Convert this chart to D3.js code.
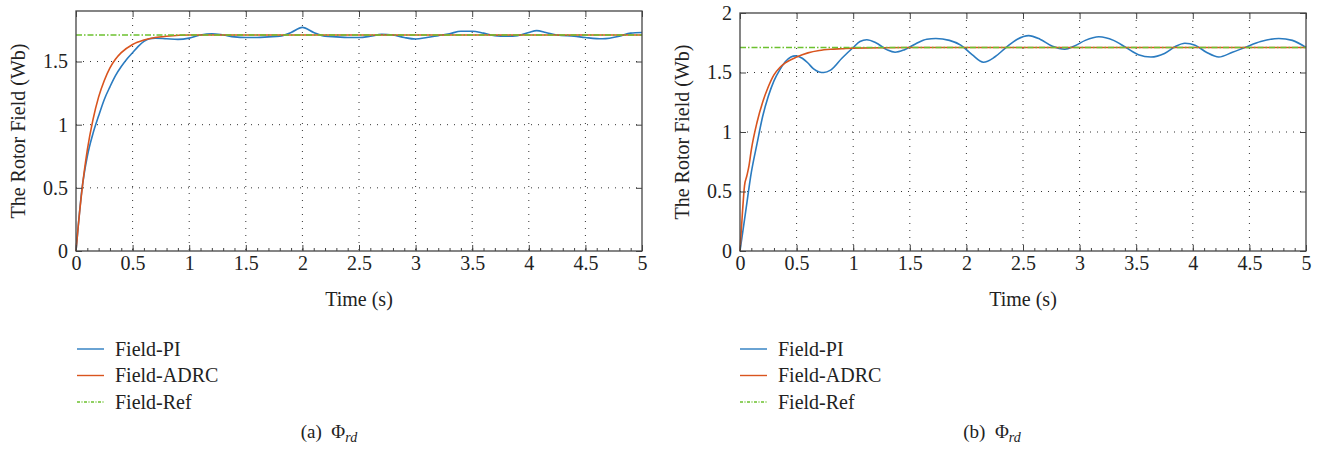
<!DOCTYPE html>
<html>
<head>
<meta charset="utf-8">
<script src="https://cdn.jsdelivr.net/npm/d3@7"></script>
</head>
<body style="margin:0">
<script>
// ---- data ----
var xTicks = [0, 0.5, 1, 1.5, 2, 2.5, 3, 3.5, 4, 4.5, 5];
var yTicksA = [0, 0.5, 1, 1.5];
var yTicksB = [0, 0.5, 1, 1.5, 2];
var fieldRef = 1.71;

// (a) PI
var tA_PI = [0, 0.02, 0.05, 0.1, 0.15, 0.2, 0.25, 0.3, 0.35, 0.4, 0.45, 0.5, 0.55, 0.6, 0.65, 0.7, 0.8, 0.9, 1.0, 1.1, 1.2, 1.3, 1.4, 1.5, 1.6, 1.7, 1.8, 1.9, 2.0, 2.1, 2.2, 2.3, 2.4, 2.5, 2.6, 2.7, 2.8, 2.9, 3.0, 3.1, 3.2, 3.3, 3.4, 3.5, 3.6, 3.7, 3.8, 3.9, 4.0, 4.07, 4.15, 4.25, 4.4, 4.5, 4.65, 4.8, 4.9, 5.0];
var vA_PI = [0, 0.2, 0.47, 0.75, 0.93, 1.07, 1.2, 1.3, 1.39, 1.46, 1.52, 1.57, 1.62, 1.66, 1.68, 1.685, 1.68, 1.675, 1.685, 1.71, 1.72, 1.71, 1.695, 1.69, 1.69, 1.695, 1.70, 1.73, 1.77, 1.73, 1.70, 1.695, 1.69, 1.69, 1.70, 1.715, 1.71, 1.69, 1.678, 1.69, 1.705, 1.72, 1.74, 1.74, 1.725, 1.705, 1.70, 1.705, 1.73, 1.745, 1.73, 1.71, 1.70, 1.69, 1.68, 1.70, 1.725, 1.73];

// (a) ADRC
var tA_ADRC = [0, 0.02, 0.05, 0.1, 0.15, 0.2, 0.25, 0.3, 0.35, 0.4, 0.5, 0.6, 0.7, 0.8, 1.0, 1.5, 2, 3, 4, 5];
var vA_ADRC = [0, 0.2, 0.46, 0.8, 1.04, 1.22, 1.35, 1.45, 1.52, 1.57, 1.635, 1.67, 1.69, 1.70, 1.71, 1.71, 1.71, 1.71, 1.71, 1.71];

// (b) PI
var tB_PI = [0, 0.05, 0.1, 0.15, 0.2, 0.25, 0.3, 0.35, 0.4, 0.45, 0.49, 0.55, 0.6, 0.65, 0.7, 0.74, 0.8, 0.9, 1.0, 1.06, 1.12, 1.2, 1.3, 1.37, 1.45, 1.55, 1.65, 1.73, 1.85, 1.95, 2.05, 2.15, 2.25, 2.35, 2.45, 2.55, 2.65, 2.76, 2.87, 2.95, 3.05, 3.17, 3.3, 3.41, 3.52, 3.63, 3.75, 3.85, 3.93, 4.02, 4.12, 4.23, 4.35, 4.46, 4.6, 4.76, 4.88, 5.0];
var vB_PI = [0, 0.33, 0.66, 0.9, 1.13, 1.3, 1.43, 1.52, 1.59, 1.63, 1.64, 1.62, 1.58, 1.53, 1.505, 1.50, 1.52, 1.62, 1.71, 1.76, 1.775, 1.75, 1.69, 1.67, 1.69, 1.74, 1.78, 1.786, 1.77, 1.73, 1.65, 1.586, 1.63, 1.71, 1.78, 1.81, 1.78, 1.72, 1.696, 1.72, 1.77, 1.80, 1.77, 1.71, 1.65, 1.63, 1.66, 1.72, 1.746, 1.73, 1.67, 1.63, 1.67, 1.71, 1.76, 1.786, 1.77, 1.71];

// (b) ADRC
var tB_ADRC = [0, 0.02, 0.04, 0.06, 0.08, 0.1, 0.15, 0.2, 0.25, 0.3, 0.35, 0.4, 0.5, 0.6, 0.7, 0.8, 0.9, 1.0, 1.5, 2, 3, 4, 5];
var vB_ADRC = [0, 0.3, 0.55, 0.63, 0.72, 0.85, 1.08, 1.25, 1.38, 1.48, 1.54, 1.58, 1.63, 1.665, 1.685, 1.695, 1.70, 1.705, 1.71, 1.71, 1.71, 1.71, 1.71];

var seriesNames = ["Field-PI", "Field-ADRC", "Field-Ref"];
var colors = ["#2a7bc0", "#d9541e", "#6cc12f"];
var serif = "'Liberation Serif'";

function zip(ts, vs) {
  return ts.map(function(t, i) { return { t: t, v: vs[i] }; });
}

// set font inline so nothing else can override it
function font(sel, size) {
  sel.attr("font-family", serif).attr("font-size", size)
    .style("font-family", serif, "important")
    .style("font-size", size + "px", "important")
    .style("fill", "#222");
}

var svg = d3.select("body").append("svg")
  .attr("width", 1324)
  .attr("height", 454);

function drawPanel(p) {
  var x = d3.scaleLinear().domain([0, 5]).range([p.left, p.right]);
  var y = d3.scaleLinear().domain([0, p.yMax]).range([p.bottom, p.top]);
  var g = svg.append("g");

  // grid
  g.selectAll(".vgrid").data(xTicks.slice(1, -1)).enter().append("line")
    .attr("x1", function(d) { return x(d); }).attr("x2", function(d) { return x(d); })
    .attr("y1", p.top).attr("y2", p.bottom)
    .attr("stroke", "#333").attr("stroke-width", 1).attr("stroke-dasharray", "1,6");
  g.selectAll(".hgrid").data(p.yTicks.filter(function(d) { return d > 0 && d < p.yMax; })).enter().append("line")
    .attr("y1", function(d) { return y(d); }).attr("y2", function(d) { return y(d); })
    .attr("x1", p.left).attr("x2", p.right)
    .attr("stroke", "#333").attr("stroke-width", 1).attr("stroke-dasharray", "1,6");

  // lines
  var line = d3.line()
    .x(function(d) { return x(d.t); })
    .y(function(d) { return y(d.v); })
    .curve(d3.curveMonotoneX);

  g.append("path").datum(p.pi).attr("d", line)
    .attr("fill", "none").attr("stroke", colors[0]).attr("stroke-width", 1.6);
  g.append("path").datum(p.adrc).attr("d", line)
    .attr("fill", "none").attr("stroke", colors[1]).attr("stroke-width", 1.6);
  g.append("path").datum([{ t: 0, v: fieldRef }, { t: 5, v: fieldRef }]).attr("d", line)
    .attr("fill", "none").attr("stroke", colors[2]).attr("stroke-width", 1.6)
    .attr("stroke-dasharray", "6,2,1.5,2");

  // axes
  var minor = d3.range(0, 51).map(function(i) { return i / 10; });
  var xAxis = d3.axisBottom(x).tickValues(xTicks).tickSizeInner(-6).tickSizeOuter(0).tickPadding(5)
    .tickFormat(d3.format("~g"));
  g.append("g").attr("transform", "translate(0," + p.bottom + ")").call(xAxis);
  g.append("g").attr("transform", "translate(0," + p.bottom + ")")
    .call(d3.axisBottom(x).tickValues(minor).tickSizeInner(-3).tickSizeOuter(0).tickFormat(""));
  g.append("g").attr("transform", "translate(0," + p.top + ")")
    .call(d3.axisTop(x).tickValues(xTicks).tickSizeInner(-6).tickSizeOuter(0).tickFormat(""));

  var yAxis = d3.axisLeft(y).tickValues(p.yTicks).tickSizeInner(-6).tickSizeOuter(0).tickPadding(8)
    .tickFormat(d3.format("~g"));
  g.append("g").attr("transform", "translate(" + p.left + ",0)").call(yAxis);
  g.append("g").attr("transform", "translate(" + p.right + ",0)")
    .call(d3.axisRight(y).tickValues(p.yTicks).tickSizeInner(-6).tickSizeOuter(0).tickFormat(""));

  g.selectAll(".domain").remove();
  g.selectAll(".tick line").attr("stroke", "#444");
  g.selectAll("g").attr("font-family", null).attr("font-size", null);
  font(g.selectAll(".tick text"), 20);

  // frame
  g.append("rect")
    .attr("x", p.left).attr("y", p.top)
    .attr("width", p.right - p.left).attr("height", p.bottom - p.top)
    .attr("fill", "none").attr("stroke", "#444").attr("stroke-width", 1.3);

  // axis titles
  g.append("text")
    .attr("x", (p.left + p.right) / 2).attr("y", 306)
    .attr("text-anchor", "middle")
    .call(font, 20)
    .text("Time (s)");
  g.append("text")
    .attr("transform", "translate(" + (p.left - 51) + "," + ((p.top + p.bottom) / 2) + ") rotate(-90)")
    .attr("text-anchor", "middle")
    .call(font, 20)
    .text("The Rotor Field (Wb)");

  // legend
  var lg = g.append("g");
  seriesNames.forEach(function(name, i) {
    var ly = 349 + i * 26.5;
    lg.append("line")
      .attr("x1", p.legendX).attr("x2", p.legendX + 27)
      .attr("y1", ly).attr("y2", ly)
      .attr("stroke", colors[i]).attr("stroke-width", 1.4)
      .attr("stroke-dasharray", i === 2 ? "3,1.5,1,1.5" : null);
    lg.append("text")
      .attr("x", p.legendX + 38).attr("y", ly + 6.5)
      .call(font, 20)
      .text(name);
  });

  // caption
  var cap = g.append("text")
    .attr("x", p.captionX).attr("y", 438)
    .attr("text-anchor", "middle")
    .call(font, 19);
  cap.append("tspan").text(p.label + "\u2002\u03A6");
  cap.append("tspan").attr("font-style", "italic").style("font-size", "14px").attr("dy", 4).text("rd");
}

drawPanel({
  left: 76, right: 642, top: 11, bottom: 251, yMax: 1.9, yTicks: yTicksA,
  pi: zip(tA_PI, vA_PI), adrc: zip(tA_ADRC, vA_ADRC),
  legendX: 77, captionX: 329, label: "(a)"
});
drawPanel({
  left: 740, right: 1306, top: 13, bottom: 251, yMax: 2, yTicks: yTicksB,
  pi: zip(tB_PI, vB_PI), adrc: zip(tB_ADRC, vB_ADRC),
  legendX: 740, captionX: 992, label: "(b)"
});
</script>
</body>
</html>
